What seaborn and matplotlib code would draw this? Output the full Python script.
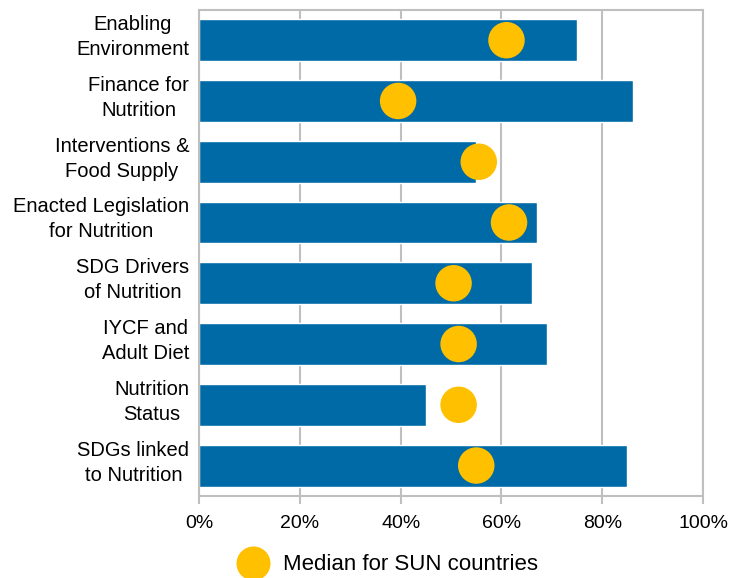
import pandas as pd
import matplotlib.pyplot as plt
import matplotlib.transforms as mtransforms
import seaborn as sns
from matplotlib.ticker import PercentFormatter
from matplotlib.lines import Line2D

# values (share of indicators met, %)
categories = ["Enabling\nEnvironment", "Finance for\nNutrition", "Interventions &\nFood Supply",
              "Enacted Legislation\nfor Nutrition", "SDG Drivers\nof Nutrition", "IYCF and\nAdult Diet",
              "Nutrition\nStatus", "SDGs linked\nto Nutrition"]
country_score = [75, 86, 55, 67, 66, 69, 45, 85]
sun_median = [61, 39.5, 55.5, 61.5, 50.5, 51.5, 51.5, 55]

df = pd.DataFrame({"Category": categories, "Score": country_score, "Median": sun_median})

sns.set_style("white")
plt.rcParams['font.family'] = ['Liberation Sans', 'DejaVu Sans']
plt.rcParams['text.color'] = 'black'

fig = plt.figure(figsize=(7.44, 5.78), dpi=100)
ax = fig.add_axes([0.2675, 0.142, 0.6775, 0.841])

sns.barplot(data=df, y="Category", x="Score", orient="h", color="#006AA6",
            saturation=1, width=0.69, ax=ax, zorder=2)
sns.scatterplot(data=df, y="Category", x="Median", color="#FFC000", s=690,
                edgecolor="none", ax=ax, zorder=3, legend=False)

ax.set_xlim(0, 100)
ax.set_ylim(7.5, -0.5)
ax.xaxis.set_major_formatter(PercentFormatter(decimals=0))
ax.set_xticks(range(0, 101, 20))
ax.grid(axis="x", color="#BFBFBF", linewidth=1.5, zorder=0)
ax.set_axisbelow(True)
for s in ax.spines.values():
    s.set_color("#BFBFBF")
    s.set_linewidth(1.5)
ax.tick_params(axis="x", bottom=True, length=6, width=1.5, color="#BFBFBF",
               labelsize=14, labelcolor="black", pad=8)
ax.tick_params(axis="y", left=False, length=0, labelsize=14.5, labelcolor="black", pad=7)

# shift category labels up a little, centred lines, right edge near the axis
shift = mtransforms.ScaledTranslation(0, 0.08, fig.dpi_scale_trans)
for lab in ax.get_yticklabels():
    lab.set_multialignment("center")
    lab.set_linespacing(1.4)
    lab.set_transform(lab.get_transform() + shift)
ax.set_xlabel("")
ax.set_ylabel("")

handle = Line2D([], [], marker="o", linestyle="none", markersize=24.5,
                markerfacecolor="#FFC000", markeredgecolor="none")
fig.legend([handle], ["Median for SUN countries"], loc="lower left",
           bbox_to_anchor=(0.295, -0.03), frameon=False, fontsize=16,
           handletextpad=0.75, handlelength=1.2)

fig.savefig("out.png", dpi=100)
